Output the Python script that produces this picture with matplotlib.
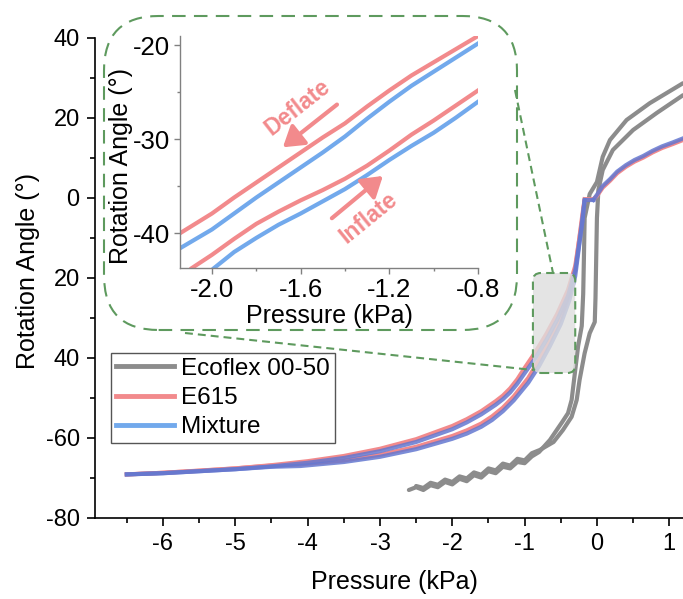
import numpy as np
import matplotlib
matplotlib.use('Agg')
import matplotlib.pyplot as plt
from matplotlib.patches import FancyBboxPatch
from matplotlib.lines import Line2D
from matplotlib.ticker import MultipleLocator

plt.rcParams['font.family'] = ['Liberation Sans', 'DejaVu Sans']
plt.rcParams['axes.unicode_minus'] = False

RED = '#f28a8c'
BLUE = '#72a9ec'
PURPLE = '#6478d0'
GRAY = '#8c8c8c'
GREEN = '#5e9a5e'

# ---- main data ----
# E615 / Mixture, deflate branch (upper)
e615_def_x = [-0.05, -0.17, -0.2, -0.25, -0.3, -0.4, -0.55, -0.7, -0.85, -1.0, -1.1, -1.2, -1.3,
              -1.4, -1.6, -1.8, -2.0, -2.5, -3.0, -3.5, -4.0, -4.5, -5.0, -5.5, -6.0, -6.5]
e615_def_y = [-0.3, -0.3, -5, -11, -17, -23, -29, -34, -38.5, -42.5, -45.3, -47.6, -49.4,
              -50.8, -53.3, -55.3, -57, -60.3, -62.7, -64.5, -65.8, -66.8, -67.6, -68.2, -68.7, -69.1]
mix_def_y = [-0.5, -0.5, -6, -12, -18, -24.5, -30.5, -35.5, -40, -43.8, -46.4, -48.6, -50.3,
             -51.7, -54.1, -56.1, -57.8, -61, -63.3, -65, -66.2, -67.1, -67.8, -68.3, -68.8, -69.1]
# inflate branch (lower)
e615_inf_x = [-6.5, -6.0, -5.0, -4.5, -4.1, -3.5, -3.0, -2.5, -2.0, -1.8, -1.6, -1.45, -1.3,
              -1.15, -0.95, -0.8, -0.65, -0.5, -0.38, -0.3, -0.25, -0.2, -0.17]
e615_inf_y = [-69.1, -68.7, -67.6, -66.9, -66.6, -65.6, -64.2, -62.2, -59.5, -58.1, -56.4, -54.6, -52.4,
              -49.6, -45, -40.5, -35.5, -30, -24, -18, -11, -4, -0.3]
mix_inf_y = [-69.1, -68.8, -67.8, -67.2, -67, -66, -64.7, -62.8, -60.2, -58.9, -57.2, -55.5, -53.3,
             -50.6, -46.2, -42, -37, -31.5, -25.5, -19.5, -12.5, -5, -0.5]
# positive pressure part
pos_x = [-0.05, 0.0, 0.08, 0.18, 0.28, 0.4, 0.52, 0.64, 0.77, 0.9, 1.05, 1.19]
e615_pos_y = [-0.3, 0.5, 2.6, 4.3, 6.2, 7.8, 9.1, 10.1, 11.4, 12.5, 13.5, 14.5]
mix_pos_y = [-0.5, 0.8, 3.0, 4.7, 6.6, 8.2, 9.5, 10.5, 11.8, 12.9, 13.9, 14.9]

# Ecoflex 00-50
eco_up_x = [-2.6, -2.5, -2.4, -2.3, -2.2, -2.1, -2.0, -1.9, -1.8, -1.7, -1.6, -1.5, -1.4,
            -1.3, -1.2, -1.1, -1.0, -0.9, -0.8, -0.65, -0.48, -0.4, -0.35, -0.3, -0.26,
            -0.21, -0.19, -0.18, -0.17, -0.1, 0.0, 0.08, 0.18, 0.41, 0.73, 1.19]
eco_up_y = [-73, -72.3, -73, -71.8, -72.3, -71, -71.6, -70.2, -70.8, -69.3, -69.9, -68.3, -68.8,
            -67.2, -67.6, -66, -66.3, -64.6, -63.5, -60.5, -56, -53.8, -50.5, -43, -37,
            -32, -24, -15, -5, 1, 4, 10.3, 14.5, 19.5, 23.7, 28.7]
eco_dn_x = [1.19, 0.83, 0.5, 0.22, 0.08, 0.02, 0.0, -0.01, -0.02, -0.03, -0.1, -0.17, -0.24,
            -0.28, -0.35, -0.47, -0.6, -0.79, -0.9, -1.0, -1.1, -1.2, -1.3, -1.4, -1.5, -1.6,
            -1.7, -1.8, -1.9, -2.0, -2.1, -2.2, -2.3, -2.4, -2.5]
eco_dn_y = [25.7, 21.3, 17, 12, 7, 2, -5, -15, -25, -31, -33.8, -38.8, -45.5,
            -50.5, -54.7, -58, -61, -63, -63.8, -65.6, -65.2, -66.9, -66.4, -68.1, -67.6, -69.2,
            -68.6, -70.1, -69.6, -71, -70.4, -71.7, -71.2, -72.5, -72]

# ---- inset data ----
in_up_x = [-2.144, -2.0, -1.9, -1.8, -1.7, -1.6, -1.5, -1.4, -1.3, -1.2, -1.1, -1.0, -0.9, -0.8]
in_red_up = [-40, -37.9, -36.2, -34.6, -33.0, -31.4, -29.8, -28.3, -26.5, -24.8, -23.2, -21.8,
             -20.4, -19.0]
in_blue_up = [-41.6, -39.6, -37.9, -36.2, -34.6, -33.0, -31.4, -29.7, -27.8, -26.0, -24.3, -22.8,
              -21.3, -19.8]
in_red_lo_x = [-2.09, -2.0, -1.9, -1.8, -1.7, -1.6, -1.5, -1.4, -1.3, -1.2, -1.1, -1.0, -0.9, -0.8]
in_red_lo = [-43.7, -42.3, -40.6, -39.0, -37.7, -36.5, -35.4, -34.2, -32.8, -31.2, -29.5, -28.0,
             -26.4, -24.8]
in_blue_lo_x = [-1.99, -1.9, -1.8, -1.7, -1.6, -1.5, -1.4, -1.3, -1.2, -1.1, -1.0, -0.9, -0.8]
in_blue_lo = [-43.7, -42.0, -40.5, -39.1, -37.9, -36.6, -35.3, -33.8, -32.2, -30.7, -29.3, -27.7,
              -26.0]

W, H = 683, 599
fig = plt.figure(figsize=(W / 100, H / 100), dpi=100)
ax = fig.add_axes([95 / W, 1 - 518 / H, 588 / W, 480 / H])

lw = 3
ax.plot(eco_up_x, eco_up_y, color=GRAY, lw=lw, solid_capstyle='round', solid_joinstyle='round')
ax.plot(eco_dn_x, eco_dn_y, color=GRAY, lw=lw, solid_capstyle='round', solid_joinstyle='round')
ax.plot(e615_def_x, e615_def_y, color=RED, lw=lw, solid_joinstyle='round')
ax.plot(e615_inf_x, e615_inf_y, color=RED, lw=lw, solid_joinstyle='round')
ax.plot(pos_x, e615_pos_y, color=RED, lw=lw, solid_joinstyle='round')
ax.plot(e615_def_x, mix_def_y, color=PURPLE, lw=lw, alpha=0.85, solid_joinstyle='round')
ax.plot(e615_inf_x, mix_inf_y, color=PURPLE, lw=lw, alpha=0.85, solid_joinstyle='round')
ax.plot(pos_x, mix_pos_y, color=PURPLE, lw=lw, alpha=0.85, solid_joinstyle='round')

ax.set_xlim(-6.94, 1.19)
ax.set_ylim(-80, 40)
ax.spines['top'].set_visible(False)
ax.spines['right'].set_visible(False)
for s in ['left', 'bottom']:
    ax.spines[s].set_linewidth(1.2)
ax.set_xticks([-6, -5, -4, -3, -2, -1, 0, 1])
ax.set_yticks([-80, -60, -40, -20, 0, 20, 40])
ax.set_yticklabels(['-80', '-60', '40', '20', '0', '20', '40'])
ax.xaxis.set_minor_locator(MultipleLocator(0.5))
ax.yaxis.set_minor_locator(MultipleLocator(10))
ax.tick_params(which='major', direction='out', length=6, width=1.2, labelsize=17, pad=5)
ax.tick_params(which='minor', direction='out', length=3.5, width=1.2)
ax.set_xlabel('Pressure (kPa)', fontsize=18)
ax.set_ylabel('Rotation Angle (°)', fontsize=18)
ax.xaxis.set_label_coords(0.51, -0.108)
ax.yaxis.set_label_coords(-0.0935, 0.515)

handles = [Line2D([], [], color=GRAY, lw=3.5),
           Line2D([], [], color=RED, lw=3.5),
           Line2D([], [], color=BLUE, lw=3.5)]
leg = ax.legend(handles, ['Ecoflex 00-50', 'E615', 'Mixture'], loc='upper left',
                bbox_to_anchor=(0.027, 0.344), borderaxespad=0, fontsize=17.5,
                fancybox=False, framealpha=1, edgecolor='#555555', labelspacing=0.3,
                handlelength=2.4, handletextpad=0.3, borderpad=0.2)
leg.get_frame().set_linewidth(1.0)

# zoom box on main plot
zbox = FancyBboxPatch((-0.885, -43.75), 0.585, 25,
                      boxstyle='round,pad=0,rounding_size=0.11', mutation_aspect=18,
                      fc=(0.87, 0.87, 0.87, 0.8), ec=GREEN, lw=1.5,
                      ls=(0, (4, 2.5)), zorder=5)
ax.add_patch(zbox)

# inset frame
frame = FancyBboxPatch((104 / W, 1 - 330 / H), 413 / W, 314 / H,
                       boxstyle='round,pad=0,rounding_size=0.08', mutation_aspect=1.14,
                       transform=fig.transFigure, fc='white', ec=GREEN, lw=1.5,
                       ls=(0, (6.5, 4)), zorder=1)
fig.add_artist(frame)
fig.add_artist(Line2D([185 / W, 533 / W], [1 - 333 / H, 1 - 370 / H], transform=fig.transFigure,
                      color=GREEN, lw=1.5, ls=(0, (3.8, 2.4)), zorder=2))
fig.add_artist(Line2D([515 / W, 553 / W], [1 - 90 / H, 1 - 273 / H], transform=fig.transFigure,
                      color=GREEN, lw=1.5, ls=(0, (3.8, 2.4)), zorder=2))

# inset axes
ins = fig.add_axes([180 / W, 1 - 268 / H, 298 / W, 232 / H])
ins.set_zorder(3)
ins.patch.set_alpha(0)
ins.plot(in_up_x, in_red_up, color=RED, lw=3, solid_joinstyle='round')
ins.plot(in_up_x, in_blue_up, color=BLUE, lw=3, solid_joinstyle='round')
ins.plot(in_red_lo_x, in_red_lo, color=RED, lw=3, solid_joinstyle='round')
ins.plot(in_blue_lo_x, in_blue_lo, color=BLUE, lw=3, solid_joinstyle='round')
ins.set_xlim(-2.144, -0.8)
ins.set_ylim(-43.7, -19.0)
ins.spines['top'].set_visible(False)
ins.spines['right'].set_visible(False)
for s in ['left', 'bottom']:
    ins.spines[s].set_color('#808080')
    ins.spines[s].set_linewidth(1.0)
ins.set_xticks([-2.0, -1.6, -1.2, -0.8])
ins.set_xticklabels(['-2.0', '-1.6', '-1.2', '-0.8'])
ins.set_yticks([-40, -30, -20])
ins.xaxis.set_minor_locator(MultipleLocator(0.2))
ins.yaxis.set_minor_locator(MultipleLocator(5))
ins.tick_params(which='major', direction='out', length=4, width=1, color='#808080',
                labelsize=18.5, pad=3)
ins.tick_params(which='minor', direction='out', length=2.5, width=1, color='#808080')
ins.set_xlabel('Pressure (kPa)', fontsize=18)
ins.set_ylabel('Rotation Angle (°)', fontsize=18)
ins.xaxis.set_label_coords(0.5, -0.155)
ins.yaxis.set_label_coords(-0.158, 0.44)

arrow = dict(arrowstyle='-|>,head_length=0.55,head_width=0.35', lw=3, color=RED,
             mutation_scale=22, shrinkA=0, shrinkB=0)
ins.annotate('', xy=(-1.68, -30.85), xytext=(-1.436, -26.3), arrowprops=arrow)
ins.annotate('', xy=(-1.229, -33.9), xytext=(-1.459, -38.4), arrowprops=arrow)
ins.text(-1.612, -26.6, 'Deflate', color=RED, fontsize=16.5, fontweight='bold',
         rotation=38, ha='center', va='center')
ins.text(-1.292, -38.4, 'Inflate', color=RED, fontsize=16.5, fontweight='bold',
         rotation=39, ha='center', va='center')

fig.savefig('out.png', dpi=100)
